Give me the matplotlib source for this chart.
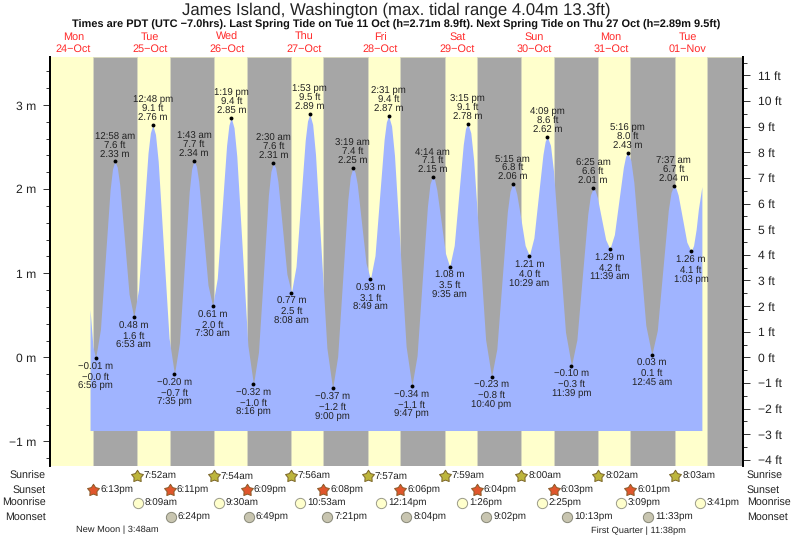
# -*- coding: utf-8 -*-
import matplotlib
matplotlib.use("Agg")
import matplotlib.pyplot as plt
from matplotlib.path import Path

plt.rcParams['font.family'] = ['Liberation Sans', 'DejaVu Sans']
plt.rcParams['text.hinting'] = 'no_hinting'

W, H = 793.0, 539.0
TXT = '#222222'

day_names = ['Mon', 'Tue', 'Wed', 'Thu', 'Fri', 'Sat', 'Sun', 'Mon', 'Tue']
day_dates = ['24-Oct', '25-Oct', '26-Oct', '27-Oct', '28-Oct', '29-Oct', '30-Oct', '31-Oct', '01-Nov']

# everything on the x axis is hours after midnight 24 Oct
sunrise = ['7:52am', '7:54am', '7:56am', '7:57am', '7:59am', '8:00am', '8:02am', '8:03am']
sunset = ['6:13pm', '6:11pm', '6:09pm', '6:08pm', '6:06pm', '6:04pm', '6:03pm', '6:01pm']
sunset_last = '5:59pm'  # not labelled, only edge of the last band
moonrise = ['8:09am', '9:30am', '10:53am', '12:14pm', '1:26pm', '2:25pm', '3:09pm', '3:41pm']
moonset = ['6:24pm', '6:49pm', '7:21pm', '8:04pm', '9:02pm', '10:13pm', '11:33pm']

# high/low waters
tide_hours = [18.93, 24.97, 30.88, 36.80, 43.58, 49.72, 55.50, 61.32, 68.27, 74.50, 80.13,
              85.88, 93.00, 99.32, 104.82, 110.52, 117.78, 124.23, 129.58, 135.25, 142.67,
              149.25, 154.48, 160.15, 167.65, 174.42, 179.65, 185.27, 192.75, 199.62, 205.05]
tide_m = [-0.01, 2.33, 0.48, 2.76, -0.20, 2.34, 0.61, 2.85, -0.32, 2.31, 0.77,
          2.89, -0.37, 2.25, 0.93, 2.87, -0.34, 2.15, 1.08, 2.78, -0.23,
          2.06, 1.21, 2.62, -0.10, 2.01, 1.29, 2.43, 0.03, 2.04, 1.26]
tide_ft = ['\u22120.0', '7.6', '1.6', '9.1', '\u22120.7', '7.7', '2.0', '9.4', '\u22121.0', '7.6', '2.5',
           '9.5', '\u22121.2', '7.4', '3.1', '9.4', '\u22121.1', '7.1', '3.5', '9.1', '\u22120.8',
           '6.8', '4.0', '8.6', '\u22120.3', '6.6', '4.2', '8.0', '0.1', '6.7', '4.1']
tide_time = ['6:56 pm', '12:58 am', '6:53 am', '12:48 pm', '7:35 pm', '1:43 am', '7:30 am', '1:19 pm',
             '8:16 pm', '2:30 am', '8:08 am', '1:53 pm', '9:00 pm', '3:19 am', '8:49 am', '2:31 pm',
             '9:47 pm', '4:14 am', '9:35 am', '3:15 pm', '10:40 pm', '5:15 am', '10:29 am', '4:09 pm',
             '11:39 pm', '6:25 am', '11:39 am', '5:16 pm', '12:45 am', '7:37 am', '1:03 pm']

# curve
curve_hours = [17.2, 18.1, 18.93, 20.44, 21.95, 23.46, 24.22, 24.97, 25.71, 26.45, 27.93, 29.40, 30.88,
               32.36, 33.84, 35.32, 36.06, 36.80, 37.65, 38.50, 40.19, 41.89, 43.58,
               45.12, 46.65, 48.19, 48.95, 49.72, 50.44, 51.17, 52.61, 54.06, 55.50,
               56.96, 58.41, 59.87, 60.59, 61.32, 62.19, 63.06, 64.80, 66.53, 68.27,
               69.83, 71.39, 72.94, 73.72, 74.50, 75.20, 75.91, 77.32, 78.72, 80.13,
               81.57, 83.00, 84.44, 85.16, 85.88, 86.77, 87.66, 89.44, 91.22, 93.00,
               94.58, 96.16, 97.74, 98.53, 99.32, 100.01, 100.70, 102.07, 103.45, 104.82,
               106.25, 107.67, 109.10, 109.81, 110.52, 111.43, 112.34, 114.15, 115.97, 117.78,
               119.39, 121.00, 122.62, 123.42, 124.23, 124.90, 125.57, 126.90, 128.24, 129.58,
               131.00, 132.42, 133.83, 134.54, 135.25, 136.18, 137.10, 138.96, 140.82, 142.67,
               144.32, 145.96, 147.60, 148.43, 149.25, 149.90, 150.56, 151.87, 153.17, 154.48,
               155.90, 157.32, 158.73, 159.44, 160.15, 161.09, 162.02, 163.90, 165.78, 167.65,
               169.34, 171.03, 172.73, 173.57, 174.42, 175.07, 175.73, 177.03, 178.34, 179.65,
               181.06, 182.46, 183.87, 184.57, 185.27, 186.21, 187.14, 189.01, 190.88, 192.75,
               194.47, 196.19, 197.90, 198.76, 199.62, 200.30, 200.98, 202.34, 203.69, 205.05,
               205.8, 206.6, 207.3, 208.4]
curve_m = [0.57, 0.13, -0.01, 0.33, 1.16, 1.99, 2.24, 2.33, 2.26, 2.06, 1.41, 0.75, 0.48,
           0.81, 1.62, 2.43, 2.67, 2.76, 2.65, 2.33, 1.28, 0.23, -0.20,
           0.17, 1.07, 1.97, 2.24, 2.34, 2.27, 2.09, 1.48, 0.86, 0.61,
           0.94, 1.73, 2.52, 2.76, 2.85, 2.73, 2.39, 1.27, 0.14, -0.32,
           0.06, 0.99, 1.93, 2.21, 2.31, 2.25, 2.09, 1.54, 0.99, 0.77,
           1.08, 1.83, 2.58, 2.81, 2.89, 2.77, 2.41, 1.26, 0.11, -0.37,
           0.01, 0.94, 1.87, 2.15, 2.25, 2.20, 2.06, 1.59, 1.12, 0.93,
           1.21, 1.90, 2.59, 2.80, 2.87, 2.75, 2.40, 1.27, 0.13, -0.34,
           0.02, 0.91, 1.79, 2.06, 2.15, 2.11, 1.99, 1.62, 1.24, 1.08,
           1.33, 1.93, 2.53, 2.72, 2.78, 2.67, 2.34, 1.28, 0.21, -0.23,
           0.10, 0.92, 1.73, 1.97, 2.06, 2.03, 1.94, 1.64, 1.33, 1.21,
           1.42, 1.92, 2.41, 2.57, 2.62, 2.52, 2.22, 1.26, 0.30, -0.10,
           0.21, 0.96, 1.70, 1.93, 2.01, 1.98, 1.90, 1.65, 1.40, 1.29,
           1.46, 1.86, 2.26, 2.39, 2.43, 2.34, 2.08, 1.23, 0.38, 0.03,
           0.32, 1.04, 1.75, 1.96, 2.04, 2.01, 1.93, 1.65, 1.37, 1.26,
           1.33, 1.52, 1.76, 2.03]
curve_floor = -0.87

new_moon_hour = 27.8
first_quarter_hour = 191.63


def clock(day, s):
    hh, mm = s[:-2].split(':')
    h = int(hh) % 12 + int(mm) / 60.0
    if s.endswith('pm'):
        h += 12
    return day * 24 + h


def px_x(x):
    return (x - 35.0) / 3.2


fig = plt.figure(figsize=(W / 100, H / 100), dpi=100)
ax = fig.add_axes([50 / W, 1 - 465.5 / H, 693 / W, 408.5 / H])
ax.set_xlim(px_x(50), px_x(743))
ax.set_ylim(-1.286, 3.571)

# day / night bands
ax.axvspan(px_x(50), px_x(743), color='#FFFFCC', lw=0, zorder=0)
edges = [clock(i, t) for i, t in enumerate(sunset)] + [clock(8, sunset_last)]
for i in range(len(edges)):
    end = clock(i + 1, sunrise[i]) if i < len(sunrise) else px_x(743)
    ax.axvspan(edges[i], end, facecolor='#A6A6A6', edgecolor='#D8D8C0', lw=0.5, zorder=1)

ax.fill_between(curve_hours, curve_floor, curve_m, color='#A0B4FF', lw=0, zorder=2)
ax.plot(tide_hours, tide_m, 'o', color='black', ms=2.8, mew=0, zorder=3)

for i in range(len(tide_hours)):
    if i % 2 == 1:
        lines = [('%.2f m' % tide_m[i], 6.5), (tide_ft[i] + ' ft', 16.5), (tide_time[i], 24.5)]
    else:
        lines = [(('%.2f m' % tide_m[i]).replace('-', '\u2212'), -9), (tide_ft[i] + ' ft', -19), (tide_time[i], -28.5)]
    for s, off in lines:
        ax.annotate(s, (tide_hours[i], tide_m[i]), xytext=(0, off * 0.72), textcoords='offset points',
                    ha='center', va='center', fontsize=6.9, color=TXT, zorder=4)

ax.set_xticks([])
ax.set_yticks([3, 2, 1, 0, -1])
ax.set_yticklabels(['3 m', '2 m', '1 m', '0 m', '\u22121 m'], fontsize=8.7, color=TXT)
ax.set_yticks([v / 5.0 for v in range(-6, 18) if v % 5 != 0], minor=True)
ax.tick_params(axis='y', which='major', length=5, width=0.7, pad=5, color='#333333')
ax.tick_params(axis='y', which='minor', length=3, width=0.7, color='#333333')

ax2 = ax.twinx()
ft_ticks = list(range(-4, 12))
ax2.set_yticks(ft_ticks)
ax2.set_yticklabels([str(v).replace('-', '\u2212') + ' ft' for v in ft_ticks], fontsize=8.7, color=TXT)
ax2.set_yticks([v + 0.5 for v in range(-4, 12)], minor=True)
ax2.set_ylim(-1.286 * 3.2808, 3.571 * 3.2808)
ax2.tick_params(axis='y', which='major', length=5, width=0.7, pad=5.5, color='#333333')
ax2.tick_params(axis='y', which='minor', length=3, width=0.7, color='#333333')

for a in (ax, ax2):
    a.spines['top'].set_visible(False)
    a.spines['bottom'].set_visible(False)
    a.spines['left'].set_linewidth(1.4)
    a.spines['right'].set_linewidth(1.4)

# title block
fig.text(396.5 / W, 1 - 10 / H, 'James Island, Washington (max. tidal range 4.04m 13.3ft)',
         ha='center', va='center', fontsize=12.05, color=TXT)
fig.text(396 / W, 1 - 25 / H,
         'Times are PDT (UTC \u22127.0hrs). Last Spring Tide on Tue 11 Oct (h=2.71m 8.9ft). '
         'Next Spring Tide on Thu 27 Oct (h=2.89m 9.5ft)',
         ha='center', va='center', fontsize=7.9, fontweight='bold', color='#111111')
for i in range(len(day_names)):
    x = (i * 24 + 12) * 3.2 + 35
    fig.text(x / W, 1 - 37.5 / H, day_names[i], ha='center', va='center', fontsize=7.8, color='#FF2A2A')
    fig.text(x / W, 1 - 49 / H, day_dates[i].replace('-', '\u2212'), ha='center', va='center',
             fontsize=7.8, color='#FF2A2A')

# rows under the plot
low = fig.add_axes([50 / W, 0, 693 / W, 1 - 465.5 / H])
low.set_xlim(ax.get_xlim())
low.set_ylim(539, 465.5)
low.axis('off')
low.patch.set_alpha(0)

rows = [('Sunrise', 476.5), ('Sunset', 490), ('Moonrise', 503.5), ('Moonset', 517)]
for name, y in rows:
    fig.text(45.5 / W, 1 - y / H, name, ha='right', va='center', fontsize=7.7, color=TXT)
    fig.text(747 / W, 1 - y / H, name, ha='left', va='center', fontsize=7.7, color=TXT)


def event_row(hours, labels, y, **kw):
    low.plot(hours, [y] * len(hours), ls='none', clip_on=False, **kw)
    for h, s in zip(hours, labels):
        low.annotate(s, (h, y + 0.5), xytext=(5.0, 0), textcoords='offset points', ha='left', va='center',
                     fontsize=7.1, color=TXT, annotation_clip=False)


fat_star = Path.unit_regular_star(5, innerCircle=0.58)
event_row([clock(i + 1, t) for i, t in enumerate(sunrise)], sunrise, 475.5, marker=fat_star, ms=9,
          mfc='#BDB53C', mec='#7A6428', mew=0.7)
event_row([clock(i, t) for i, t in enumerate(sunset)], sunset, 489.5, marker=fat_star, ms=9,
          mfc='#E0562C', mec='#8A5A28', mew=0.7)
event_row([clock(i + 1, t) for i, t in enumerate(moonrise)], moonrise, 503, marker='o', ms=7.4,
          mfc='#FFFFCC', mec='#999988', mew=0.7)
event_row([clock(i + 1, t) for i, t in enumerate(moonset)], moonset, 517, marker='o', ms=7.4,
          mfc='#C8C5B0', mec='#888878', mew=0.7)

low.annotate('New Moon | 3:48am', (new_moon_hour, 530), xytext=(-5, 0), textcoords='offset points',
             ha='center', va='center', fontsize=6.7, color=TXT, annotation_clip=False)
low.annotate('First Quarter | 11:38pm', (first_quarter_hour, 530.5), xytext=(-7, 0), textcoords='offset points',
             ha='center', va='center', fontsize=6.7, color=TXT, annotation_clip=False)

fig.savefig('out.png', dpi=100)
